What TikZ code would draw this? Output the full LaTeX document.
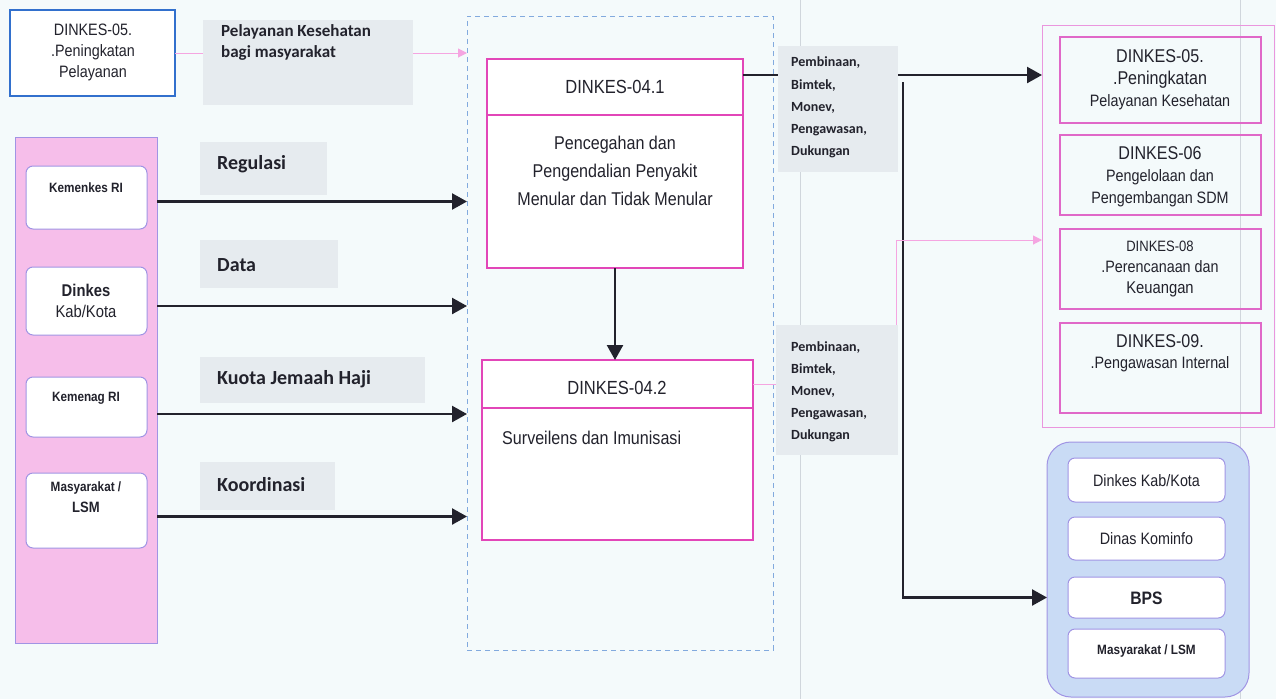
\documentclass[tikz,border=0pt]{standalone}
\usepackage{fontspec}
\setmainfont{Liberation Sans}
\newfontfamily\narf{Liberation Sans}[FakeStretch=0.87]
\newfontfamily\calf{Carlito}
\usetikzlibrary{arrows.meta}

\definecolor{bg}{RGB}{244,250,251}
\definecolor{lblgrey}{RGB}{230,235,239}
\definecolor{ink}{RGB}{34,34,44}
\definecolor{mag}{RGB}{226,70,184}
\definecolor{magsoft}{RGB}{224,104,200}
\definecolor{pinkfill}{RGB}{246,190,234}
\definecolor{lav}{RGB}{160,148,228}
\definecolor{lpink}{RGB}{234,150,222}
\definecolor{bluefill}{RGB}{201,219,245}
\definecolor{dashblue}{RGB}{130,170,222}
\definecolor{boxblue}{RGB}{50,112,205}
\definecolor{arrowpink}{RGB}{245,165,225}
\definecolor{seam}{RGB}{208,214,220}

\tikzset{
  box/.style={anchor=north west, inner sep=0pt, outer sep=0pt},
  magbox/.style={box, draw=mag, line width=1.3pt, fill=white},
  innerbox/.style={box, draw=lav, line width=1pt, fill=white, rounded corners=7pt},
  subbox/.style={box, draw=magsoft, line width=1.1pt},
  lblbox/.style={box, fill=lblgrey},
  txt/.style={inner sep=0pt, text=ink, align=center},
  ltxt/.style={inner sep=0pt, text=ink, align=left, anchor=west},
  arr/.style={draw=ink, line width=2.4pt, -{Triangle[length=15pt,width=16pt]}},
  pinkarr/.style={draw=arrowpink, line width=1pt, -{Triangle[length=9pt,width=9pt]}},
}

\begin{document}
\begin{tikzpicture}[x=1pt,y=-1pt]
\useasboundingbox (0,0) rectangle (1276,699);
\fill[bg] (0,0) rectangle (1276,699);
% faint sheet seams
\draw[seam, line width=0.6pt] (800,0) -- (800,699);
\draw[seam, line width=0.6pt] (1240,0) -- (1240,699);

% ---------- containers ----------
\node[box, draw=dashblue, line width=0.9pt, dash pattern=on 5pt off 4pt,
      minimum width=306, minimum height=634] (mid) at (467,16) {};
\node[box, fill=pinkfill, draw=lav, line width=1pt,
      minimum width=142, minimum height=506] (colL) at (15,137) {};
\node[box, draw=lpink, line width=1pt,
      minimum width=232, minimum height=402] (rc) at (1042,25) {};
\node[box, fill=bluefill, draw=lav, line width=1pt, rounded corners=24pt,
      minimum width=202, minimum height=255] (bc) at (1047,442) {};

% ---------- top-left unit ----------
\node[box, draw=boxblue, line width=1.6pt, fill=white,
      minimum width=165, minimum height=86] (dk05) at (10,10) {};
\node[txt, font=\narf\fontsize{16.5}{21}\selectfont] (dk05t) at (93,52)
  {DINKES-05.\\.Peningkatan\\Pelayanan};

% ---------- central units ----------
\node[magbox, minimum width=256, minimum height=56] (t41) at (487,59) {};
\node[magbox, minimum width=256, minimum height=153] (b41) at (487,115) {};
\node[txt, font=\narf\fontsize{19}{23}\selectfont] (t41t) at (615,87) {DINKES-04.1};
\node[txt, font=\narf\fontsize{18.5}{28}\selectfont] (b41t) at (615,171)
  {Pencegahan dan\\Pengendalian Penyakit\\Menular dan Tidak Menular};

\node[magbox, minimum width=271, minimum height=48] (t42) at (482,360) {};
\node[magbox, minimum width=271, minimum height=132] (b42) at (482,408) {};
\node[txt, font=\narf\fontsize{19}{23}\selectfont] (t42t) at (617,388) {DINKES-04.2};
\node[ltxt, font=\narf\fontsize{18.5}{23}\selectfont] (b42t) at (502,438) {Surveilens dan Imunisasi};

% ---------- left stakeholders ----------
\node[innerbox, minimum width=121, minimum height=63] (kem) at (26,166) {};
\node[txt, font=\narf\bfseries\fontsize{13.5}{17}\selectfont] (kemt) at (86,188) {Kemenkes RI};
\node[innerbox, minimum width=121, minimum height=68] (dkk) at (26,267) {};
\node[txt, font=\narf\fontsize{17}{21}\selectfont] (dkkt) at (86,301) {\textbf{Dinkes}\\Kab/Kota};
\node[innerbox, minimum width=121, minimum height=60] (kmg) at (26,377) {};
\node[txt, font=\narf\bfseries\fontsize{13.5}{17}\selectfont] (kmgt) at (86,398) {Kemenag RI};
\node[innerbox, minimum width=121, minimum height=75] (msy) at (26,473) {};
\node[txt, font=\narf\bfseries\fontsize{13.5}{21}\selectfont] (msyt) at (86,497) {Masyarakat /\\{\fontsize{15}{21}\selectfont LSM}};

% ---------- right units ----------
\node[subbox, minimum width=201, minimum height=86] (r05) at (1060,37) {};
\node[txt, font=\narf\fontsize{16.5}{22}\selectfont] (r05t) at (1160,80)
  {{\fontsize{18.5}{22}\selectfont DINKES-05.}\\{\fontsize{18.5}{22}\selectfont .Peningkatan}\\Pelayanan Kesehatan};
\node[subbox, minimum width=201, minimum height=80] (r06) at (1060,135) {};
\node[txt, font=\narf\fontsize{16.5}{22}\selectfont] (r06t) at (1160,177)
  {{\fontsize{18.5}{22}\selectfont DINKES-06}\\Pengelolaan dan\\Pengembangan SDM};
\node[subbox, minimum width=201, minimum height=80] (r08) at (1060,229) {};
\node[txt, font=\narf\fontsize{16.5}{21}\selectfont] (r08t) at (1160,269)
  {{\fontsize{15}{21}\selectfont DINKES-08}\\.Perencanaan dan\\{\fontsize{17}{21}\selectfont Keuangan}};
\node[subbox, minimum width=201, minimum height=90] (r09) at (1060,323) {};
\node[txt, font=\narf\fontsize{16.5}{21}\selectfont] (r09t) at (1160,353)
  {{\fontsize{18.5}{21}\selectfont DINKES-09.}\\.Pengawasan Internal};

\node[innerbox, minimum width=157, minimum height=44] (e1) at (1068,458) {};
\node[txt, font=\narf\fontsize{16.5}{20}\selectfont] (e1t) at (1146.5,481) {Dinkes Kab/Kota};
\node[innerbox, minimum width=157, minimum height=43] (e2) at (1068,517) {};
\node[txt, font=\narf\fontsize{16.5}{20}\selectfont] (e2t) at (1146.5,539) {Dinas Kominfo};
\node[innerbox, minimum width=157, minimum height=41] (e3) at (1068,577) {};
\node[txt, font=\narf\bfseries\fontsize{18}{20}\selectfont] (e3t) at (1146.5,598) {BPS};
\node[innerbox, minimum width=157, minimum height=49] (e4) at (1068,629) {};
\node[txt, font=\narf\bfseries\fontsize{13.5}{20}\selectfont] (e4t) at (1146.5,651) {Masyarakat / LSM};

% ---------- connectors ----------
\draw[pinkarr] (dk05.east) -- (mid.west |- dk05.east);
\draw[arr] ([yshift=-4pt]kem.east -| colL.east) -- ([yshift=-4pt]kem.east -| mid.west);
\draw[arr] ([yshift=-5pt]dkk.east -| colL.east) -- ([yshift=-5pt]dkk.east -| mid.west);
\draw[arr] ([yshift=-7pt]kmg.east -| colL.east) -- ([yshift=-7pt]kmg.east -| mid.west);
\draw[arr] ([yshift=-6pt]msy.east -| colL.east) -- ([yshift=-6pt]msy.east -| mid.west);
\draw[arr] (b41.south) -- (b41.south |- t42.north);
\draw[arr] ([yshift=12pt]t41.east) -- ([yshift=12pt]t41.east -| rc.west);
\coordinate (bus) at (903,82);
\draw[arr] (bus) |- (e3.west -| bc.west);
\coordinate (pk) at (896,240);
\draw[pinkarr] (t42.east) -| (pk) -- (pk -| rc.west);

% ---------- flow labels ----------
\node[lblbox, minimum width=210, minimum height=85] (lPel) at (203,20) {};
\node[ltxt, font=\calf\bfseries\fontsize{17}{21}\selectfont] (lPelt) at (221,42)
  {Pelayanan Kesehatan\\bagi masyarakat};
\node[lblbox, minimum width=127, minimum height=53] (lReg) at (200,142) {};
\node[ltxt, font=\calf\bfseries\fontsize{20}{24}\selectfont] (lRegt) at (217,164) {Regulasi};
\node[lblbox, minimum width=138, minimum height=48] (lDat) at (200,240) {};
\node[ltxt, font=\calf\bfseries\fontsize{20}{24}\selectfont] (lDatt) at (217,265) {Data};
\node[lblbox, minimum width=225, minimum height=46] (lKuo) at (200,357) {};
\node[ltxt, font=\calf\bfseries\fontsize{20}{24}\selectfont] (lKuot) at (217,379) {Kuota Jemaah Haji};
\node[lblbox, minimum width=135, minimum height=48] (lKoo) at (200,462) {};
\node[ltxt, font=\calf\bfseries\fontsize{20}{24}\selectfont] (lKoot) at (217,485) {Koordinasi};

\node[lblbox, minimum width=120, minimum height=126] (lP1) at (778,46) {};
\node[ltxt, font=\calf\bfseries\fontsize{14}{22.2}\selectfont] (lP1t) at (791,107.5)
  {Pembinaan,\\Bimtek,\\Monev,\\Pengawasan,\\Dukungan};
\node[lblbox, minimum width=122, minimum height=130] (lP2) at (776,325) {};
\node[ltxt, font=\calf\bfseries\fontsize{14}{22}\selectfont] (lP2t) at (791,391.5)
  {Pembinaan,\\Bimtek,\\Monev,\\Pengawasan,\\Dukungan};
\end{tikzpicture}
\end{document}
